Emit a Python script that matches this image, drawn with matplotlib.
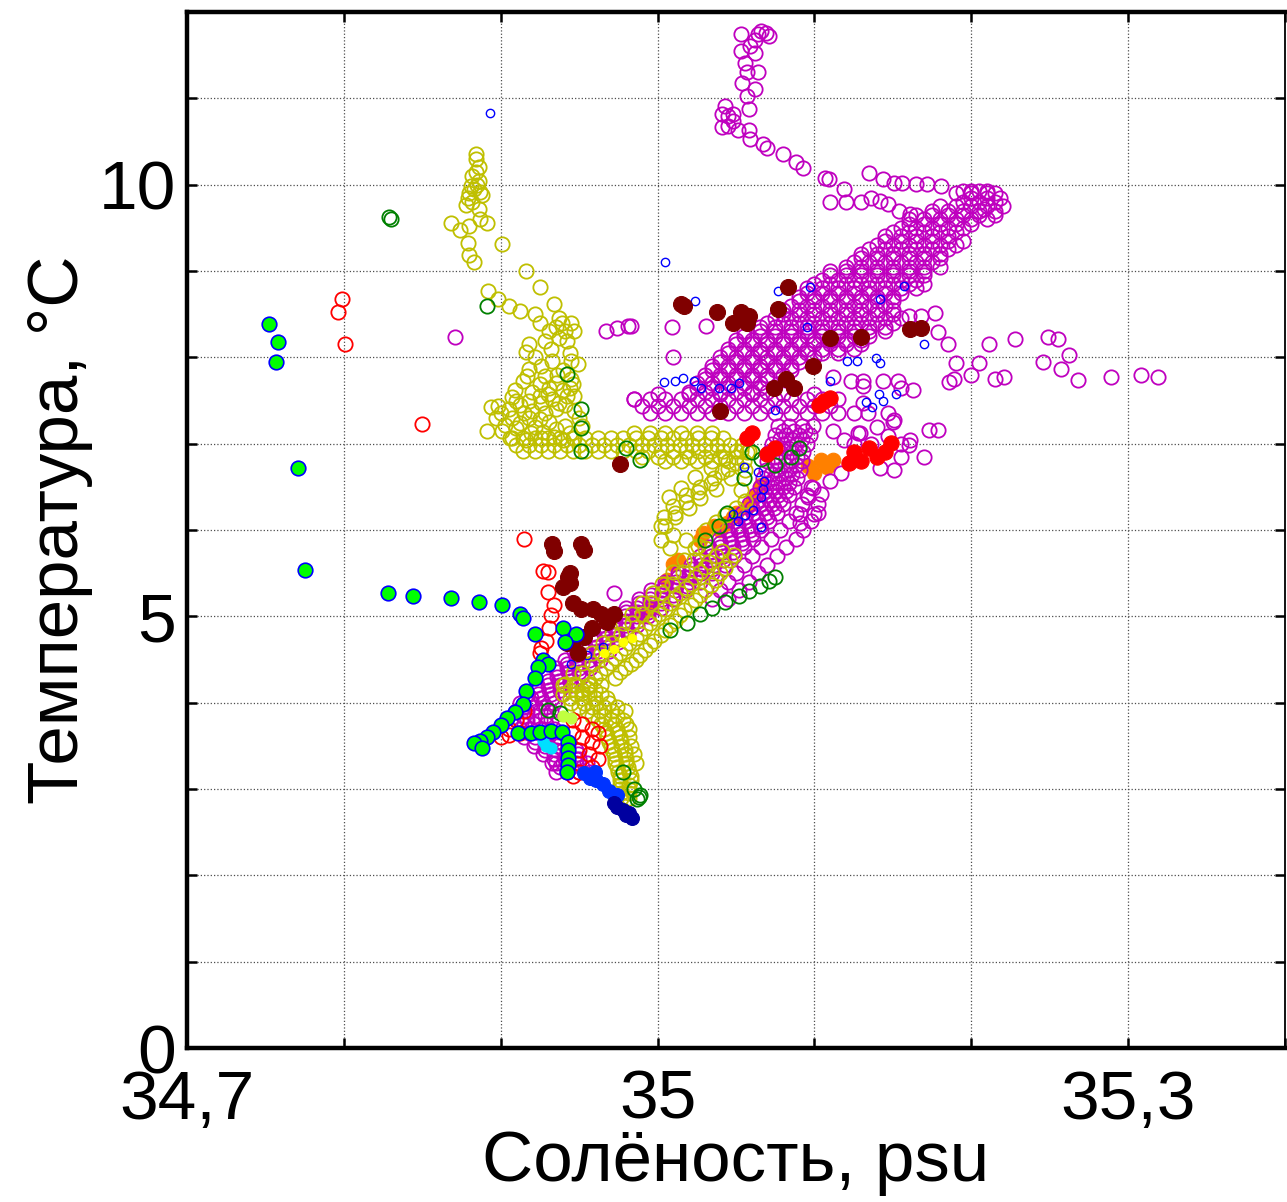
import matplotlib
matplotlib.use('Agg')
import matplotlib.pyplot as plt
from matplotlib.ticker import FixedLocator, FixedFormatter

plt.rcParams['font.family'] = ['Liberation Sans', 'DejaVu Sans']

# ---------------- data (salinity S, temperature T) ----------------
# magenta profile: dense lower band, rows of S at each T level
mag_lo_T = [3.2, 3.3, 3.4, 3.5, 3.6, 3.7, 3.8, 3.9, 4.0, 4.1, 4.2, 4.3, 4.4, 4.5, 4.6, 4.7,
            4.8, 4.9, 5.0, 5.1, 5.2, 5.3, 5.4, 5.5, 5.6, 5.7, 5.8, 5.9, 6.0, 6.1, 6.2, 6.3,
            6.4, 6.5, 6.6, 6.7, 6.8, 6.9, 7.0, 7.1, 7.2]
mag_lo_S = [[34.935, 34.942, 34.950, 34.957], [34.933, 34.940, 34.948, 34.955],
            [34.927, 34.934, 34.942, 34.949], [34.921, 34.928, 34.936, 34.943],
            [34.915, 34.922, 34.930, 34.937], [34.912, 34.919, 34.927, 34.934],
            [34.910, 34.917, 34.925, 34.932], [34.910, 34.917, 34.925, 34.932],
            [34.912, 34.919, 34.927, 34.934], [34.917, 34.924, 34.932, 34.939],
            [34.923, 34.930, 34.938, 34.945], [34.929, 34.936, 34.944, 34.951],
            [34.935, 34.942, 34.950, 34.957], [34.941, 34.948, 34.956, 34.963],
            [34.947, 34.954, 34.962, 34.969], [34.953, 34.960, 34.968, 34.975],
            [34.959, 34.966, 34.974, 34.981], [34.965, 34.972, 34.980, 34.987],
            [34.972, 34.979, 34.987, 34.994], [34.980, 34.987, 34.995, 35.002],
            [34.988, 34.995, 35.003, 35.010], [34.996, 35.003, 35.011, 35.018],
            [35.005, 35.012, 35.020, 35.027], [35.013, 35.020, 35.028, 35.035],
            [35.021, 35.028, 35.036, 35.043], [35.027, 35.034, 35.042, 35.049],
            [35.033, 35.040, 35.048, 35.055], [35.039, 35.046, 35.054, 35.061],
            [35.044, 35.051, 35.059, 35.066], [35.049, 35.056, 35.064, 35.071],
            [35.054, 35.061, 35.069, 35.076], [35.058, 35.065, 35.073, 35.080],
            [35.062, 35.069, 35.077, 35.084], [35.065, 35.072, 35.080, 35.087],
            [35.067, 35.074, 35.082, 35.089], [35.069, 35.076, 35.084, 35.091],
            [35.070, 35.077, 35.085, 35.092], [35.071, 35.078, 35.086, 35.093],
            [35.073, 35.080, 35.088, 35.095], [35.075, 35.082, 35.090, 35.097],
            [35.077, 35.084, 35.092, 35.099]]
mag_lo2_T = [3.25, 3.35, 3.45, 3.55, 3.65, 3.75, 3.85, 3.95, 4.05, 4.15, 4.25, 4.35, 4.45,
             4.55, 4.65, 4.75, 4.85, 4.95, 5.05, 5.15, 5.25, 5.35, 5.45, 5.55, 5.65, 5.75,
             5.85, 5.95, 6.05, 6.15, 6.25, 6.35, 6.45, 6.55, 6.65, 6.75, 6.85, 6.95, 7.05, 7.15]
mag_lo2_S = [[34.938, 34.945, 34.952], [34.934, 34.941, 34.948], [34.928, 34.935, 34.942],
             [34.922, 34.929, 34.936], [34.918, 34.925, 34.932], [34.915, 34.922, 34.929],
             [34.914, 34.921, 34.928], [34.915, 34.922, 34.929], [34.919, 34.926, 34.933],
             [34.924, 34.931, 34.938], [34.930, 34.937, 34.944], [34.936, 34.943, 34.950],
             [34.942, 34.949, 34.956], [34.948, 34.955, 34.962], [34.954, 34.961, 34.968],
             [34.960, 34.967, 34.974], [34.966, 34.973, 34.980], [34.973, 34.980, 34.987],
             [34.980, 34.987, 34.994], [34.988, 34.995, 35.002], [34.996, 35.003, 35.010],
             [35.005, 35.012, 35.019], [35.013, 35.020, 35.027], [35.021, 35.028, 35.035],
             [35.028, 35.035, 35.042], [35.034, 35.041, 35.048], [35.040, 35.047, 35.054],
             [35.046, 35.053, 35.060], [35.051, 35.058, 35.065], [35.056, 35.063, 35.070],
             [35.060, 35.067, 35.074], [35.064, 35.071, 35.078], [35.068, 35.075, 35.082],
             [35.070, 35.077, 35.084], [35.072, 35.079, 35.086], [35.074, 35.081, 35.088],
             [35.075, 35.082, 35.089], [35.076, 35.083, 35.090], [35.078, 35.085, 35.092],
             [35.080, 35.087, 35.094]]
# magenta lighter band right of the lower band
mag_r_T = [5.2, 5.3, 5.4, 5.5, 5.6, 5.7, 5.8, 5.9, 6.0, 6.1, 6.2, 6.3, 6.4, 6.5]
mag_r_S = [[35.035, 35.045], [35.040, 35.052], [35.045, 35.058], [35.050, 35.064],
           [35.055, 35.070], [35.060, 35.076], [35.066, 35.082], [35.072, 35.088],
           [35.078, 35.093], [35.084, 35.098], [35.088, 35.102], [35.092, 35.102],
           [35.095], [35.098]]
# magenta horizontal band near 7.45 C
mag_h_T = [7.36, 7.44, 7.52, 7.58]
mag_h_S = [[34.995, 35.005, 35.015, 35.025, 35.035, 35.045, 35.055, 35.065, 35.075, 35.085, 35.095, 35.105, 35.115],
           [34.990, 35.000, 35.010, 35.020, 35.030, 35.040, 35.050, 35.060, 35.070, 35.080, 35.090, 35.100, 35.110],
           [34.985, 34.995, 35.005, 35.015, 35.025, 35.035, 35.045, 35.055, 35.065, 35.075, 35.085, 35.095, 35.105, 35.115],
           [35.000, 35.020, 35.040, 35.060, 35.080, 35.100]]
# magenta wedge 7.6 - 9.9 C
mag_w_T = [7.6, 7.7, 7.8, 7.9, 8.0, 8.1, 8.2, 8.3, 8.4, 8.5, 8.6, 8.7, 8.8, 8.9, 9.0,
           9.1, 9.2, 9.3, 9.4, 9.5, 9.6, 9.7, 9.8, 9.9]
mag_w_S = [[35.02, 35.03, 35.04, 35.05, 35.06, 35.07],
           [35.025, 35.035, 35.045, 35.055, 35.065],
           [35.03, 35.04, 35.05, 35.06, 35.07, 35.08],
           [35.035, 35.045, 35.055, 35.065, 35.075, 35.085],
           [35.04, 35.05, 35.06, 35.07, 35.08, 35.09, 35.10],
           [35.045, 35.055, 35.065, 35.075, 35.085, 35.095, 35.105, 35.115, 35.125],
           [35.05, 35.06, 35.07, 35.08, 35.09, 35.10, 35.11, 35.12, 35.13],
           [35.055, 35.065, 35.075, 35.085, 35.095, 35.105, 35.115, 35.125, 35.135, 35.145],
           [35.07, 35.08, 35.09, 35.10, 35.11, 35.12, 35.13, 35.14, 35.15],
           [35.08, 35.09, 35.10, 35.11, 35.12, 35.13, 35.14, 35.15],
           [35.085, 35.095, 35.105, 35.115, 35.125, 35.135, 35.145],
           [35.09, 35.10, 35.11, 35.12, 35.13, 35.14, 35.15],
           [35.095, 35.105, 35.115, 35.125, 35.135, 35.145, 35.155, 35.165],
           [35.105, 35.115, 35.125, 35.135, 35.145, 35.155, 35.165],
           [35.11, 35.12, 35.13, 35.14, 35.15, 35.16, 35.17],
           [35.125, 35.135, 35.145, 35.155, 35.165, 35.175],
           [35.13, 35.14, 35.15, 35.16, 35.17, 35.18],
           [35.14, 35.15, 35.16, 35.17, 35.18, 35.19],
           [35.145, 35.155, 35.165, 35.175, 35.185],
           [35.155, 35.165, 35.175, 35.185, 35.195],
           [35.16, 35.17, 35.18, 35.19, 35.20, 35.21],
           [35.175, 35.185, 35.195, 35.205, 35.215],
           [35.11, 35.12, 35.13, 35.195, 35.205, 35.215],
           [35.19, 35.20, 35.21, 35.215]]
mag_w2_T = [7.65, 7.75, 7.85, 7.95, 8.05, 8.15, 8.25, 8.35, 8.45, 8.55, 8.65, 8.75, 8.85,
            8.95, 9.05, 9.15, 9.25, 9.35, 9.45, 9.55, 9.65, 9.75, 9.85]
mag_w2_S = [[35.025, 35.035, 35.045, 35.055, 35.065],
            [35.030, 35.040, 35.050, 35.060, 35.070],
            [35.035, 35.045, 35.055, 35.065, 35.075, 35.085],
            [35.040, 35.050, 35.060, 35.070, 35.080, 35.090],
            [35.045, 35.055, 35.065, 35.075, 35.085, 35.095, 35.105, 35.115],
            [35.050, 35.060, 35.070, 35.080, 35.090, 35.100, 35.110, 35.120, 35.130],
            [35.055, 35.065, 35.075, 35.085, 35.095, 35.105, 35.115, 35.125, 35.135],
            [35.065, 35.075, 35.085, 35.095, 35.105, 35.115, 35.125, 35.135, 35.145],
            [35.075, 35.085, 35.095, 35.105, 35.115, 35.125, 35.135, 35.145, 35.155],
            [35.080, 35.090, 35.100, 35.110, 35.120, 35.130, 35.140, 35.150],
            [35.090, 35.100, 35.110, 35.120, 35.130, 35.140, 35.150],
            [35.095, 35.105, 35.115, 35.125, 35.135, 35.145, 35.155],
            [35.100, 35.110, 35.120, 35.130, 35.140, 35.150, 35.160, 35.170],
            [35.110, 35.120, 35.130, 35.140, 35.150, 35.160, 35.170],
            [35.120, 35.130, 35.140, 35.150, 35.160, 35.170, 35.180],
            [35.130, 35.140, 35.150, 35.160, 35.170, 35.180],
            [35.135, 35.145, 35.155, 35.165, 35.175, 35.185],
            [35.145, 35.155, 35.165, 35.175, 35.185, 35.195],
            [35.150, 35.160, 35.170, 35.180, 35.190],
            [35.160, 35.170, 35.180, 35.190, 35.200],
            [35.165, 35.175, 35.185, 35.195, 35.205, 35.215],
            [35.180, 35.190, 35.200, 35.210, 35.220],
            [35.200, 35.210, 35.218]]
# magenta upper part (S, T)
mag_top = [(35.053, 11.75), (35.064, 11.75), (35.066, 11.78), (35.069, 11.76), (35.071, 11.72),
           (35.062, 11.67), (35.059, 11.61), (35.053, 11.55), (35.062, 11.53), (35.056, 11.41),
           (35.057, 11.30), (35.064, 11.30), (35.054, 11.18), (35.062, 11.11), (35.057, 11.03),
           (35.058, 10.88), (35.043, 10.91), (35.048, 10.82), (35.041, 10.82), (35.045, 10.80),
           (35.045, 10.68), (35.041, 10.67), (35.048, 10.74), (35.051, 10.63), (35.058, 10.63),
           (35.059, 10.53), (35.067, 10.47), (35.070, 10.42), (35.080, 10.36), (35.088, 10.26),
           (35.093, 10.19), (35.107, 10.08), (35.109, 10.07), (35.119, 9.95), (35.135, 10.13),
           (35.144, 10.06), (35.151, 10.02), (35.156, 10.02), (35.165, 10.01), (35.172, 10.01),
           (35.181, 9.98), (35.136, 9.85), (35.142, 9.81), (35.147, 9.78), (35.154, 9.70),
           (35.161, 9.66), (35.195, 9.93), (35.200, 9.93), (35.205, 9.93), (35.210, 9.93),
           (35.208, 9.72)]
# magenta scattered circles
mag_sc = [(35.112, 7.77), (35.123, 7.73), (35.131, 7.73), (35.144, 7.73), (35.155, 7.65),
          (35.163, 7.62), (35.125, 7.35), (35.134, 7.35), (35.151, 7.27), (35.112, 7.15),
          (35.129, 7.12), (35.147, 7.09), (35.161, 7.04), (35.170, 6.84), (35.155, 6.84),
          (35.142, 6.72), (35.151, 6.69), (35.117, 6.66), (35.110, 6.57), (35.099, 6.49),
          (35.096, 6.38), (35.104, 6.42), (35.091, 6.19), (35.100, 6.19), (35.091, 6.08),
          (35.131, 7.67), (35.153, 7.73), (35.147, 7.35), (35.150, 7.25), (35.131, 7.47),
          (35.140, 7.19), (35.128, 7.12), (35.119, 7.04), (35.125, 7.00), (35.136, 7.00),
          (35.155, 7.00), (35.160, 6.98), (35.177, 8.51), (35.168, 8.48), (35.160, 8.48),
          (35.185, 8.16), (35.179, 8.29), (35.173, 7.16), (35.179, 7.16),
          (35.211, 8.16), (35.228, 8.21), (35.249, 8.23), (35.255, 8.21), (35.262, 8.03),
          (35.246, 7.95), (35.257, 7.86), (35.268, 7.74), (35.289, 7.77), (35.308, 7.80),
          (35.319, 7.77), (35.190, 7.93), (35.205, 7.93), (35.186, 7.71), (35.189, 7.75),
          (35.200, 7.80), (35.215, 7.75), (35.221, 7.77),
          (34.871, 8.23), (34.967, 8.31), (34.974, 8.34), (34.981, 8.36), (34.983, 8.36),
          (35.009, 8.35), (35.010, 8.00), (35.031, 8.36), (34.985, 7.52), (34.972, 5.27),
          (34.935, 3.30), (34.950, 3.35), (34.940, 3.45), (34.948, 3.45)]

# olive profile
ol_top = [(34.884, 10.36), (34.884, 10.30), (34.886, 10.20), (34.882, 10.10), (34.886, 10.04),
          (34.883, 9.95), (34.880, 9.90), (34.887, 9.92), (34.879, 9.85), (34.882, 9.80),
          (34.878, 9.76), (34.886, 9.72), (34.868, 9.56), (34.874, 9.47), (34.880, 9.52),
          (34.887, 9.60), (34.891, 9.56), (34.879, 9.32), (34.880, 9.18), (34.883, 9.10),
          (34.901, 9.31), (34.885, 10.00), (34.881, 9.98), (34.888, 9.88), (34.884, 10.15)]
ol_mid = [(34.916, 9.00), (34.925, 8.82), (34.892, 8.77), (34.898, 8.68), (34.905, 8.59),
          (34.912, 8.54), (34.922, 8.50), (34.934, 8.62), (34.937, 8.46), (34.939, 8.40),
          (34.941, 8.30), (34.942, 8.19), (34.931, 8.30), (34.928, 8.19), (34.918, 8.16),
          (34.916, 8.06), (34.922, 8.00), (34.933, 7.96), (34.945, 7.96), (34.949, 7.92),
          (34.918, 7.87), (34.914, 7.73), (34.925, 7.69), (34.931, 7.65), (34.944, 7.65),
          (34.946, 7.69), (34.909, 7.62), (34.907, 7.54), (34.918, 7.50), (34.926, 7.47),
          (34.937, 7.47), (34.898, 7.44), (34.894, 7.42), (34.900, 7.35), (34.907, 7.30),
          (34.918, 7.30), (34.922, 7.19), (34.912, 7.24), (34.891, 7.15), (34.901, 7.15),
          (34.907, 7.07), (34.916, 7.04), (34.926, 7.07), (34.905, 7.40), (34.912, 7.45),
          (34.920, 7.38), (34.928, 7.35), (34.935, 7.40), (34.942, 7.55), (34.930, 7.58),
          (34.920, 7.60), (34.936, 7.80), (34.940, 7.85), (34.926, 7.90), (34.932, 8.10),
          (34.944, 8.05), (34.937, 8.22), (34.945, 7.75), (34.941, 7.20), (34.931, 7.25),
          (34.944, 7.12), (34.897, 7.30), (34.903, 7.22), (34.910, 7.18), (34.919, 7.12),
          (34.927, 7.14), (34.934, 7.08), (34.940, 7.04), (34.947, 7.07), (34.935, 7.17),
          (34.925, 7.28), (34.915, 7.35), (34.910, 7.50), (34.925, 7.55), (34.933, 7.52),
          (34.941, 7.45), (34.947, 7.38), (34.950, 7.30), (34.952, 7.20), (34.917, 7.78),
          (34.928, 7.78), (34.935, 7.70), (34.940, 7.62), (34.947, 7.55), (34.925, 8.40),
          (34.935, 8.35), (34.945, 8.40), (34.947, 8.30)]
ol_h_T = [7.12, 7.06, 6.99, 6.92, 6.85, 6.80]
ol_h_S = [[34.985, 34.995, 35.005, 35.015, 35.025, 35.035],
          [34.906, 34.914, 34.922, 34.930, 34.938, 34.946, 34.954, 34.962, 34.970, 34.978,
           34.986, 34.994, 35.002, 35.010, 35.018, 35.026, 35.034, 35.042],
          [34.910, 34.918, 34.926, 34.934, 34.942, 34.950, 34.958, 34.966, 34.974, 34.982,
           34.990, 34.998, 35.006, 35.014, 35.022, 35.030, 35.038, 35.046, 35.054],
          [34.914, 34.922, 34.930, 34.938, 34.946, 34.954, 34.962, 34.970, 34.978, 34.986,
           34.994, 35.002, 35.010, 35.018, 35.026, 35.034, 35.042, 35.050, 35.058],
          [34.990, 35.000, 35.010, 35.020, 35.030, 35.040, 35.050],
          [35.005, 35.015, 35.025, 35.035, 35.045]]
ol_seven = [(35.053, 6.92), (35.043, 6.83), (35.034, 6.72), (35.024, 6.61), (35.015, 6.49),
            (35.007, 6.38), (35.056, 6.69), (35.047, 6.60), (35.037, 6.48), (35.027, 6.37),
            (35.020, 6.25), (35.011, 6.15), (35.005, 6.05), (35.057, 6.90), (35.050, 6.78),
            (35.041, 6.67), (35.034, 6.55), (35.026, 6.44), (35.018, 6.32), (35.011, 6.20),
            (35.056, 6.34), (35.050, 6.25), (35.043, 6.17), (35.037, 6.09), (35.031, 6.00),
            (35.053, 6.46), (35.002, 6.05), (35.010, 5.94), (35.018, 5.88), (35.026, 5.82),
            (35.002, 5.88), (35.008, 5.79), (35.055, 6.80), (35.045, 6.71), (35.036, 6.60),
            (35.027, 6.50), (35.018, 6.40), (35.010, 6.28), (35.004, 6.15)]
ol_stem = [(35.041, 5.76), (35.033, 5.63), (35.027, 5.51), (35.021, 5.38), (35.014, 5.27),
           (35.008, 5.15), (35.001, 5.03), (34.995, 4.92), (34.989, 4.80), (34.982, 4.69),
           (34.976, 4.57), (34.970, 4.46), (34.963, 4.34), (34.957, 4.22), (34.952, 4.11),
           (35.030, 5.79), (35.023, 5.65), (35.016, 5.51), (35.009, 5.38), (35.003, 5.27),
           (34.996, 5.15), (34.990, 5.03), (34.984, 4.92), (34.977, 4.80), (34.971, 4.69),
           (34.964, 4.57), (34.958, 4.46), (34.952, 4.34), (34.947, 4.22),
           (35.049, 5.71), (35.043, 5.56), (35.037, 5.42), (35.030, 5.30), (35.024, 5.19),
           (35.017, 5.07), (35.011, 4.95), (35.005, 4.84), (34.998, 4.72), (34.992, 4.61),
           (34.986, 4.49), (34.979, 4.40), (34.973, 4.29),
           (35.024, 5.79), (35.017, 5.65), (35.010, 5.51), (35.003, 5.38), (34.997, 5.27),
           (34.990, 5.15), (34.984, 5.03), (34.978, 4.92), (34.971, 4.80), (34.965, 4.69),
           (34.958, 4.57), (34.952, 4.46), (34.946, 4.34), (34.941, 4.22),
           (35.037, 5.70), (35.030, 5.57), (35.024, 5.45), (35.018, 5.33), (35.011, 5.21),
           (35.005, 5.09), (34.998, 4.98), (34.992, 4.86), (34.986, 4.75), (34.979, 4.63),
           (34.973, 4.52), (34.967, 4.40), (34.960, 4.28), (34.955, 4.17),
           (35.046, 5.65), (35.040, 5.50), (35.034, 5.36), (35.027, 5.25), (35.021, 5.13),
           (35.014, 5.01), (35.008, 4.90), (35.002, 4.78), (34.995, 4.67), (34.989, 4.55),
           (34.983, 4.45), (34.976, 4.35)]
ol_lo_T = [4.2, 4.15, 4.1, 4.05, 4.0, 3.95, 3.9, 3.85, 3.8, 3.75, 3.7, 3.65, 3.6, 3.55, 3.5,
           3.45, 3.4, 3.35, 3.3, 3.25, 3.2, 3.15, 3.1, 3.05, 3.0, 2.95, 2.9]
ol_lo_S = [[34.940, 34.948, 34.956, 34.964], [34.944, 34.952, 34.960],
           [34.940, 34.948, 34.956, 34.964], [34.944, 34.952, 34.960, 34.968],
           [34.945, 34.953, 34.961, 34.969], [34.950, 34.958, 34.966, 34.974],
           [34.955, 34.963, 34.971, 34.979], [34.958, 34.966, 34.974],
           [34.962, 34.970, 34.978], [34.964, 34.972, 34.980], [34.966, 34.974, 34.982],
           [34.967, 34.975], [34.968, 34.976, 34.982], [34.969, 34.977],
           [34.970, 34.977, 34.983], [34.971, 34.979], [34.972, 34.979, 34.985],
           [34.973, 34.980], [34.973, 34.980, 34.986], [34.974, 34.981], [34.975, 34.982],
           [34.976, 34.983], [34.976, 34.983], [34.976, 34.982], [34.976, 34.982],
           [34.977, 34.982], [34.977, 34.982]]

# dark green open circles
dg = [(34.829, 9.62), (34.830, 9.60), (34.891, 8.59), (34.942, 7.81), (34.951, 7.40),
      (34.951, 7.18), (34.951, 6.92), (34.989, 6.81), (34.980, 6.95),
      (35.008, 4.84), (35.019, 4.92), (35.027, 5.03), (35.035, 5.10), (35.043, 5.17),
      (35.052, 5.24), (35.058, 5.29), (35.065, 5.35), (35.071, 5.41), (35.075, 5.46),
      (35.060, 6.90), (35.066, 6.82), (35.055, 6.60), (35.044, 6.20), (35.039, 6.05),
      (35.030, 5.88), (35.075, 6.75), (35.085, 6.85), (35.090, 6.95),
      (34.988, 2.91), (34.989, 2.93), (34.987, 2.88), (34.978, 3.20), (34.985, 3.00),
      (34.930, 3.92), (34.938, 3.88)]
# blue small open circles
bo = [(34.893, 10.83), (35.005, 9.10), (35.024, 8.65), (35.077, 8.77), (35.097, 8.81),
      (35.142, 8.68), (35.157, 8.83), (35.004, 7.71), (35.011, 7.73), (35.016, 7.76),
      (35.023, 7.73), (35.028, 7.65), (35.039, 7.64), (35.047, 7.65), (35.052, 7.70),
      (35.075, 7.39), (35.095, 8.35), (35.121, 7.96), (35.127, 7.96), (35.139, 7.99),
      (35.142, 7.93), (35.144, 7.50), (35.152, 7.58), (35.137, 7.42), (35.170, 8.15),
      (35.055, 6.73), (35.064, 6.67), (35.068, 6.57), (35.067, 6.48), (35.066, 6.38),
      (35.061, 6.23), (35.056, 6.17), (35.051, 6.11), (35.048, 6.19), (35.066, 6.03),
      (35.110, 7.73), (35.141, 7.58), (35.133, 7.48), (34.945, 4.45), (34.955, 4.55),
      (34.965, 4.65)]
# orange filled
orng = [(35.061, 6.38), (35.057, 6.27), (35.048, 6.15), (35.044, 6.08), (35.029, 5.96),
        (35.027, 5.88), (35.013, 5.65), (35.010, 5.61), (35.006, 5.42), (35.104, 6.81),
        (35.108, 6.73), (35.112, 6.81), (35.100, 6.66), (35.096, 6.74), (35.066, 6.52),
        (35.050, 6.20), (35.036, 6.05), (35.040, 6.00), (34.995, 5.08), (34.990, 5.00)]
# red open circles
red_o = [(34.799, 8.67), (34.796, 8.52), (34.801, 8.16), (34.850, 7.23), (34.915, 5.90),
         (34.927, 5.53), (34.930, 5.51), (34.930, 5.28), (34.934, 5.13), (34.932, 5.01),
         (34.931, 4.87), (34.929, 4.72), (34.926, 4.63), (34.925, 4.57),
         (34.946, 3.80), (34.952, 3.75), (34.958, 3.70), (34.962, 3.65), (34.946, 3.65),
         (34.952, 3.60), (34.958, 3.55), (34.963, 3.50), (34.950, 3.45), (34.956, 3.40),
         (34.962, 3.35), (34.958, 3.25), (34.950, 3.20), (34.946, 3.15),
         (34.900, 3.60), (34.905, 3.70), (34.910, 3.80), (34.915, 3.90), (34.905, 3.62),
         (34.912, 3.65)]
# red filled
red_f = [(35.057, 7.06), (35.060, 7.12), (35.070, 6.88), (35.075, 6.95), (35.106, 7.50),
         (35.110, 7.53), (35.103, 7.45), (35.149, 7.01), (35.140, 6.85), (35.125, 6.90),
         (35.130, 6.80), (35.135, 6.95), (35.145, 6.90), (35.122, 6.78)]
# dark red filled
dred = [(34.976, 6.77), (34.944, 5.50), (34.940, 5.34), (34.943, 5.45), (34.944, 5.39),
        (34.946, 5.15), (34.951, 5.09), (34.959, 5.09), (34.964, 5.03), (34.972, 5.03),
        (34.968, 4.93), (34.958, 4.87), (34.953, 4.76), (34.946, 4.72), (34.942, 4.69),
        (34.949, 4.57), (34.933, 5.84), (34.934, 5.76), (34.951, 5.84), (34.953, 5.77),
        (35.015, 8.62), (35.017, 8.60), (35.038, 8.52), (35.053, 8.52), (35.058, 8.48),
        (35.083, 8.81), (35.077, 8.56), (35.048, 8.40), (35.057, 8.40), (35.099, 7.90),
        (35.082, 7.75), (35.074, 7.65), (35.087, 7.65), (35.040, 7.38), (35.161, 8.33),
        (35.168, 8.34), (35.110, 8.22), (35.130, 8.23)]
# blue / navy filled near the bottom
blue_f = [(34.953, 3.18), (34.957, 3.13), (34.961, 3.10), (34.965, 3.06), (34.969, 2.98),
          (34.974, 2.93), (34.960, 3.20)]
navy_f = [(34.972, 2.84), (34.974, 2.79), (34.978, 2.76), (34.982, 2.72), (34.984, 2.66),
          (34.980, 2.70)]
cyan_f = [(34.927, 3.56), (34.929, 3.50), (34.932, 3.47)]
yell_f = [(34.966, 4.58), (34.972, 4.62), (34.978, 4.70), (34.984, 4.75)]
ygrn_f = [(34.940, 3.85), (34.945, 3.82)]
# lime filled, blue edge
lime = [(34.752, 8.39), (34.758, 8.18), (34.757, 7.95), (34.771, 6.72), (34.775, 5.54),
        (34.828, 5.27), (34.844, 5.23), (34.868, 5.21), (34.886, 5.17), (34.901, 5.13),
        (34.912, 5.03), (34.914, 4.98), (34.922, 4.80), (34.940, 4.87), (34.948, 4.80),
        (34.941, 4.70), (34.927, 4.49), (34.930, 4.45), (34.924, 4.41), (34.922, 4.28),
        (34.916, 4.14), (34.914, 3.99), (34.909, 3.89), (34.904, 3.82), (34.900, 3.74),
        (34.895, 3.66), (34.891, 3.60), (34.887, 3.56), (34.883, 3.53), (34.888, 3.48),
        (34.911, 3.65), (34.919, 3.65), (34.925, 3.66), (34.932, 3.67), (34.939, 3.66),
        (34.943, 3.54), (34.943, 3.45), (34.943, 3.36), (34.943, 3.28), (34.942, 3.20)]

x_ticks = [34.7, 34.8, 34.9, 35.0, 35.1, 35.2, 35.3, 35.4]
x_labels = ['34,7', '', '', '35', '', '', '35,3', '']
y_ticks = [0, 1, 2, 3, 4, 5, 6, 7, 8, 9, 10, 11, 12]
y_labels = ['0', '', '', '', '', '5', '', '', '', '', '10', '', '']


def rows(levels, svals):
    xs, ys = [], []
    for t, row in zip(levels, svals):
        for s in row:
            xs.append(s)
            ys.append(t)
    return xs, ys


def pairs(p):
    return [a for a, b in p], [b for a, b in p]


fig = plt.figure(figsize=(12.87, 12.02), dpi=100)
ax = fig.add_axes([187 / 1287, 1 - 1048 / 1202, (1285 - 187) / 1287, (1048 - 12) / 1202])

MAG = '#BF00BF'
OLV = '#BFBF00'
ring = dict(ls='none', marker='o', mfc='none', ms=10.3, mew=1.3)

# orange lies mostly underneath the profiles
x, y = pairs(orng)
ax.plot(x, y, ls='none', marker='o', mfc='#FF8000', mec='#FF8000', ms=10.5, mew=0.8)

for lv, sv in [(mag_lo_T, mag_lo_S), (mag_lo2_T, mag_lo2_S), (mag_r_T, mag_r_S),
               (mag_h_T, mag_h_S), (mag_w_T, mag_w_S), (mag_w2_T, mag_w2_S)]:
    x, y = rows(lv, sv)
    ax.plot(x, y, mec=MAG, **ring)
for p in [mag_top, mag_sc]:
    x, y = pairs(p)
    ax.plot(x, y, mec=MAG, **ring)

for p in [ol_top, ol_mid, ol_seven, ol_stem]:
    x, y = pairs(p)
    ax.plot(x, y, mec=OLV, **ring)
for lv, sv in [(ol_h_T, ol_h_S), (ol_lo_T, ol_lo_S)]:
    x, y = rows(lv, sv)
    ax.plot(x, y, mec=OLV, **ring)

x, y = pairs(dg)
ax.plot(x, y, mec='#008000', **ring)
x, y = pairs(red_o)
ax.plot(x, y, mec='#FF0000', **ring)
x, y = pairs(bo)
ax.plot(x, y, ls='none', marker='o', mfc='none', mec='#0000FF', ms=6, mew=1.0)

filled = [(red_f, '#FF0000', 11), (dred, '#800000', 11.5),
          (blue_f, '#0033FF', 10), (navy_f, '#0000A0', 10), (cyan_f, '#00E0FF', 8),
          (yell_f, '#FFFF00', 6), (ygrn_f, '#C0FF40', 8)]
for p, c, m in filled:
    x, y = pairs(p)
    ax.plot(x, y, ls='none', marker='o', mfc=c, mec=c, ms=m, mew=0.8)

x, y = pairs(lime)
ax.plot(x, y, ls='none', marker='o', mfc='#00FF00', mec='#0000FF', ms=10.5, mew=1.2)

ax.set_xlim(34.7, 35.4)
ax.set_ylim(0, 12)
ax.xaxis.set_major_locator(FixedLocator(x_ticks))
ax.xaxis.set_major_formatter(FixedFormatter(x_labels))
ax.yaxis.set_major_locator(FixedLocator(y_ticks))
ax.yaxis.set_major_formatter(FixedFormatter(y_labels))
ax.tick_params(direction='in', length=7, width=1.8, top=True, right=True,
               labelsize=50, colors='black')
ax.tick_params(axis='x', pad=15)
ax.tick_params(axis='y', pad=8)
ax.set_axisbelow(True)
ax.grid(True, ls=':', color='0.3', lw=0.9)
for side in ['left', 'bottom', 'top']:
    ax.spines[side].set_linewidth(3.2)
ax.spines['right'].set_linewidth(1.3)

ax.set_xlabel('Солёность, psu', fontsize=51, labelpad=-2)
ax.set_ylabel('Температура, °C', fontsize=51, labelpad=4)

fig.savefig('out.png', dpi=100)
